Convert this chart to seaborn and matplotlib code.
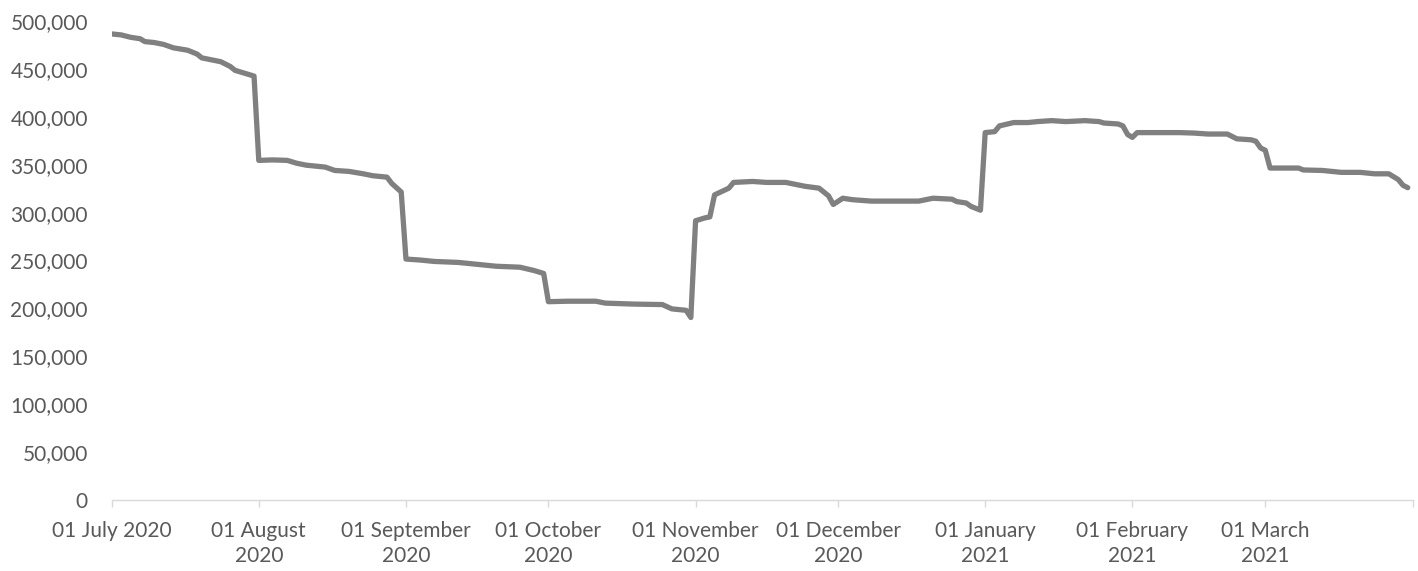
import matplotlib
matplotlib.use("Agg")
import matplotlib.pyplot as plt
import matplotlib.ticker as mticker
import seaborn as sns
import pandas as pd

dates = [
    "2020-07-01", "2020-07-03", "2020-07-05", "2020-07-07", "2020-07-08", "2020-07-10",
    "2020-07-12", "2020-07-14", "2020-07-17", "2020-07-19", "2020-07-20", "2020-07-22",
    "2020-07-24", "2020-07-26", "2020-07-27", "2020-07-29", "2020-07-31",
    "2020-08-01", "2020-08-04", "2020-08-07", "2020-08-09", "2020-08-11", "2020-08-15",
    "2020-08-17", "2020-08-20", "2020-08-23", "2020-08-25", "2020-08-28", "2020-08-29",
    "2020-08-31",
    "2020-09-01", "2020-09-04", "2020-09-07", "2020-09-12", "2020-09-15", "2020-09-20",
    "2020-09-25", "2020-09-28", "2020-09-30",
    "2020-10-01", "2020-10-05", "2020-10-11", "2020-10-13", "2020-10-19", "2020-10-25",
    "2020-10-27", "2020-10-30", "2020-10-31",
    "2020-11-01", "2020-11-03", "2020-11-04", "2020-11-05", "2020-11-08", "2020-11-09",
    "2020-11-13", "2020-11-16", "2020-11-20", "2020-11-24", "2020-11-27", "2020-11-29",
    "2020-11-30",
    "2020-12-02", "2020-12-04", "2020-12-08", "2020-12-13", "2020-12-18", "2020-12-21",
    "2020-12-25", "2020-12-26", "2020-12-28", "2020-12-29", "2020-12-31",
    "2021-01-01", "2021-01-03", "2021-01-04", "2021-01-07", "2021-01-10", "2021-01-12",
    "2021-01-15", "2021-01-18", "2021-01-22", "2021-01-25", "2021-01-26", "2021-01-29",
    "2021-01-30", "2021-01-31",
    "2021-02-01", "2021-02-02", "2021-02-06", "2021-02-11", "2021-02-14", "2021-02-17",
    "2021-02-21", "2021-02-23", "2021-02-26", "2021-02-27", "2021-02-28",
    "2021-03-01", "2021-03-02", "2021-03-05", "2021-03-08", "2021-03-09", "2021-03-13",
    "2021-03-17", "2021-03-21", "2021-03-24", "2021-03-27", "2021-03-29", "2021-03-30",
    "2021-03-31",
]

values = [
    486500, 485500, 483000, 481500, 478500, 477500,
    475500, 472000, 469500, 465500, 461500, 459500,
    457500, 452500, 448500, 445500, 442500,
    354500, 355000, 354500, 351500, 349500, 347500,
    344000, 343000, 340500, 338500, 337000, 330500,
    321500,
    251500, 250500, 249000, 248000, 246500, 244000,
    243000, 239500, 236500,
    207000, 207500, 207500, 205500, 204500, 204000,
    199500, 198000, 190500,
    291500, 294500, 295500, 318500, 325500, 331500,
    332500, 331500, 331500, 327500, 325500, 317500,
    308500,
    315000, 313500, 312000, 312000, 312000, 315000,
    314000, 311500, 310000, 306500, 302500,
    383500, 384500, 390500, 394000, 394000, 395000,
    396000, 395000, 396000, 395000, 393500, 392500,
    390500, 381500,
    378500, 383500, 383500, 383500, 383000, 382000,
    382000, 377000, 376000, 374500, 367500,
    365000, 346500, 346500, 346500, 344500, 344000,
    342000, 342000, 340500, 340500, 334500, 328500,
    326000,
]

tick_dates = ["2020-07-01", "2020-08-01", "2020-09-01", "2020-10-01", "2020-11-01",
              "2020-12-01", "2021-01-01", "2021-02-01", "2021-03-01", "2021-04-01"]
tick_labels = ["01 July 2020", "01 August\n2020", "01 September\n2020", "01 October\n2020",
               "01 November\n2020", "01 December\n2020", "01 January\n2021",
               "01 February\n2021", "01 March\n2021", ""]
y_ticks = [0, 50000, 100000, 150000, 200000, 250000, 300000, 350000, 400000, 450000, 500000]

df = pd.DataFrame({"date": pd.to_datetime(dates), "value": values})

sns.set_style("white")
plt.rcParams["font.family"] = ["Lato", "DejaVu Sans"]

fig = plt.figure(figsize=(14.18, 5.71), dpi=100)
ax = fig.add_axes([111.6 / 1418, (571 - 500) / 571, (1412.5 - 111.6) / 1418, (500 - 21) / 571])

sns.lineplot(data=df, x="date", y="value", ax=ax, color="#808080", linewidth=3.8,
             solid_joinstyle="round", solid_capstyle="round")

ax.set_xlim(pd.Timestamp("2020-07-01"), pd.Timestamp("2021-04-01"))
ax.set_ylim(0, 500000)
ax.set_xticks(pd.to_datetime(tick_dates))
ax.set_xticklabels(tick_labels)
ax.set_yticks(y_ticks)
ax.yaxis.set_major_formatter(mticker.FuncFormatter(lambda v, p: f"{int(v):,}"))
ax.set_xlabel("")
ax.set_ylabel("")

for s in ["top", "right", "left"]:
    ax.spines[s].set_visible(False)
ax.spines["bottom"].set_color("#D9D9D9")
ax.spines["bottom"].set_linewidth(1.0)

ax.tick_params(axis="x", which="major", length=5, width=1.0, color="#D9D9D9",
               labelsize=15, labelcolor="#595959", pad=10, direction="out", bottom=True)
ax.tick_params(axis="y", length=0, labelsize=15, labelcolor="#595959", pad=17)
for lbl in ax.get_xticklabels():
    lbl.set_linespacing(1.3)
ax.grid(False)

fig.savefig("out.png", dpi=100)
